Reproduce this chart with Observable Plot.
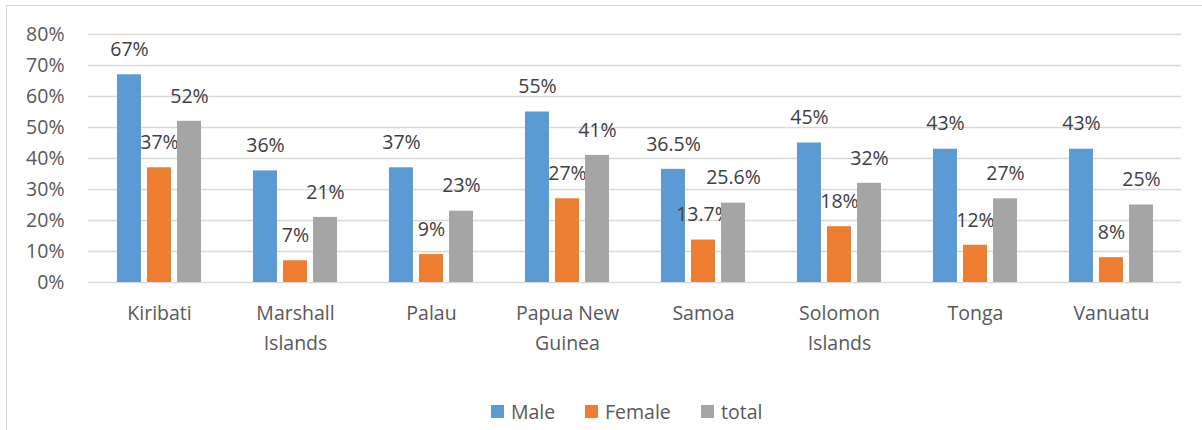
<!DOCTYPE html>
<html><head><meta charset="utf-8">
<script src="https://cdn.jsdelivr.net/npm/d3@7"></script>
<script src="https://cdn.jsdelivr.net/npm/@observablehq/plot@0.6"></script>
<style>
body{margin:0;background:#fff;font-family:"Open Sans",sans-serif;}
#wrap{position:relative;width:1202px;height:430px;overflow:hidden;background:#fff;}
#frame{position:absolute;left:6px;top:5px;right:-10px;bottom:-10px;border-left:1.5px solid #d9d9d9;border-top:1.5px solid #d9d9d9;}
#chart{position:absolute;left:0;top:0;}
#legend{position:absolute;top:398px;left:0;width:1202px;height:26px;font-size:19.5px;color:#595959;}
.item{position:absolute;top:0;display:flex;align-items:center;height:26px;}
.sw{width:13px;height:13px;margin-right:7px;}
</style></head>
<body>
<div id="wrap"><div id="frame"></div><div id="chart"></div><div id="legend"></div></div>
<script>
const countries = ["Kiribati","Marshall Islands","Palau","Papua New Guinea","Samoa","Solomon Islands","Tonga","Vanuatu"];
const countryLabels = ["Kiribati","Marshall\nIslands","Palau","Papua New\nGuinea","Samoa","Solomon\nIslands","Tonga","Vanuatu"];
const series = ["Male","Female","total"];
const male = [67, 36, 37, 55, 36.5, 45, 43, 43];
const female = [37, 7, 9, 27, 13.7, 18, 12, 8];
const total = [52, 21, 23, 41, 25.6, 32, 27, 25];
const colors = ["#5B9BD5","#ED7D31","#A5A5A5"];
const yTicks = [0,10,20,30,40,50,60,70,80];

const values = [male, female, total];
const rows = [];
series.forEach((s, i) => countries.forEach((c, j) => rows.push({country: c, series: s, value: values[i][j], label: values[i][j] + "%"})));

const offsets = [-30, 0, 30];
const marks = [
  Plot.ruleY(yTicks, {stroke: "#d9d9d9", strokeWidth: 1.3}),
];
series.forEach((s, i) => {
  const d = rows.filter(r => r.series === s);
  marks.push(Plot.barY(d, {x: "country", y: "value", fill: "series", dx: offsets[i]}));
  marks.push(Plot.text(d, {x: "country", y: "value", text: "label", dx: offsets[i], dy: -25, fontSize: 19.5, fill: "#404040"}));
});
marks.push(Plot.axisY({ticks: yTicks, tickFormat: d => d + "%", tickSize: 0, tickPadding: 24, fontSize: 19.5, label: null}));
marks.push(Plot.axisX({tickSize: 0, tickPadding: 17, fontSize: 19.5, lineHeight: 1.5, label: null, tickFormat: d => countryLabels[countries.indexOf(d)]}));

const chart = Plot.plot({
  width: 1202, height: 380,
  marginLeft: 88, marginRight: 21, marginTop: 34, marginBottom: 98,
  style: {color: "#595959", fontFamily: "Open Sans, sans-serif", background: "transparent"},
  x: {domain: countries, paddingInner: 0.825, paddingOuter: 0.4125, axis: null},
  y: {domain: [0, 80], axis: null},
  color: {domain: series, range: colors},
  marks
});
document.getElementById("chart").appendChild(chart);

const lefts = [491, 585, 701];
const leg = document.getElementById("legend");
series.forEach((s, i) => {
  const it = document.createElement("div");
  it.className = "item";
  it.style.left = lefts[i] + "px";
  it.innerHTML = `<span class="sw" style="background:${colors[i]}"></span><span>${s}</span>`;
  leg.appendChild(it);
});
</script>
</body></html>
